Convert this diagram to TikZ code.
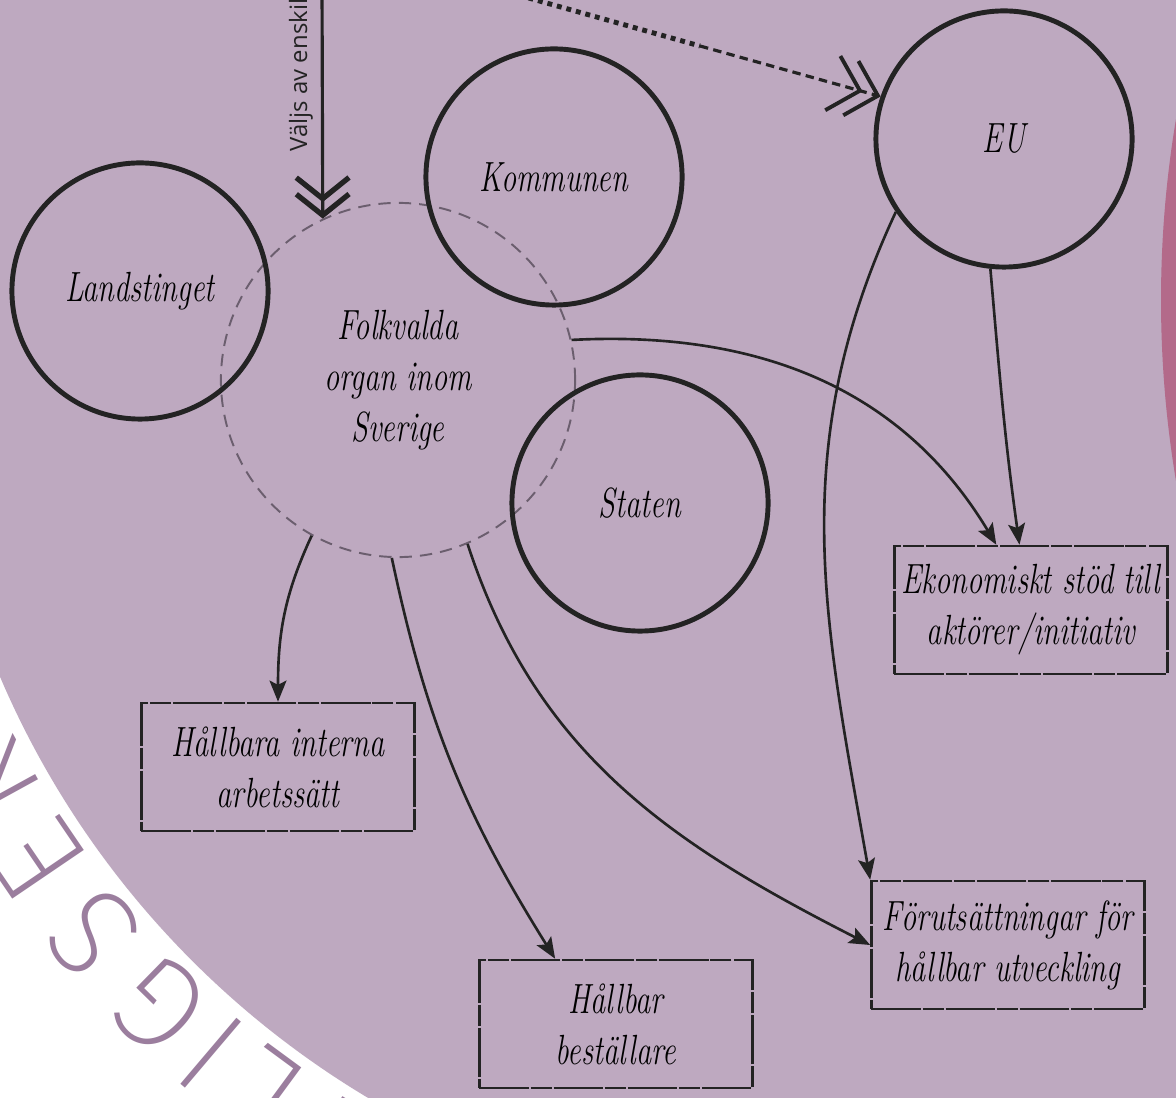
\documentclass[tikz,border=0pt]{standalone}
\usepackage{fontspec}
\usetikzlibrary{arrows.meta}

\newfontfamily\skrift{Latin Modern Roman}[FakeStretch=0.72]
\newfontfamily\etikett{Open Sans}
\IfFontExistsTF{Fira Sans ExtraLight}
  {\newfontfamily\ringfont{Fira Sans ExtraLight}}
  {\newfontfamily\ringfont{Fira Sans}}

\definecolor{lila}{HTML}{BEA9C0}
\definecolor{rosa}{HTML}{B36A8A}
\definecolor{ringtext}{HTML}{9B7E9E}
\definecolor{streck}{HTML}{232323}
\definecolor{gra}{HTML}{6B5E6E}

\tikzset{
  organ/.style={circle, draw=streck, line width=1.4pt, minimum size=2.56cm, inner sep=0pt,
    font=\skrift\itshape\fontsize{12}{14.5}\selectfont},
  folkring/.style={circle, draw=gra, line width=0.55pt, dash pattern=on 3.5pt off 2.3pt,
    minimum size=3.54cm, inner sep=0pt, align=center,
    font=\skrift\itshape\fontsize{12}{14.5}\selectfont},
  mal/.style={draw=streck, line width=0.7pt, dash pattern=on 14pt off 0.6pt on 6pt off 0.5pt,
    minimum width=2.73cm, minimum height=1.28cm, inner sep=0pt, align=center,
    font=\skrift\itshape\fontsize{12}{14.5}\selectfont},
  pil/.style={draw=streck, line width=0.75pt, -{Stealth[length=6pt, width=4.8pt, inset=1.2pt]}},
  dubbel/.style={-{Straight Barb[length=6pt, width=15pt, line width=1.5pt, sep=-3pt]
    Straight Barb[length=6pt, width=15pt, line width=1.5pt]}},
  ringbok/.style={text=ringtext, font=\ringfont\fontsize{36}{36}\selectfont, inner sep=0pt},
}

\begin{document}
\begin{tikzpicture}[x=0.01cm, y=0.01cm]
  \useasboundingbox (0,0) rectangle (1176,1097);
  \clip (0,0) rectangle (1176,1097);
  \fill[white] (0,0) rectangle (1176,1097);
  \fill[lila] (830,774) circle [radius=902];
  \fill[rosa] (2248,797) circle [radius=1087];

  % text runt cirkeln
  \begin{scope}[shift={(830,774)}]
    \foreach \b/\v in {T/238, L/233.7, I/229.7, G/225.6, S/219.6, E/214.2, K/208.8}
      \node[ringbok, rotate=\v-90] (bok\b) at (\v:957) {\b};
  \end{scope}

  % organ
  \node[folkring] (folk) at (398,717) {Folkvalda\\organ inom\\Sverige};
  \node[organ] (landsting) at (140,806) {Landstinget};
  \node[organ] (kommun) at (554,920) {Kommunen};
  \node[organ] (staten) at (640,594) {Staten};
  \node[organ] (eu) at (1004,958) {EU};

  % resultat
  \node[mal] (interna) at (278,330) {Hållbara interna\\arbetssätt};
  \node[mal] (bestallare) at (616,73) {Hållbar\\beställare};
  \node[mal] (forutsattning) at (1008,152) {Förutsättningar för\\hållbar utveckling};
  \node[mal] (ekonomi) at (1031,487) {Ekonomiskt stöd till\\aktörer/initiativ};

  % val
  \coordinate (oben1) at (322,1112);
  \draw[streck, line width=0.9pt, dubbel] (oben1) -- (folk.115);
  \node[rotate=90, anchor=west, inner sep=0pt, text=streck, font=\etikett\fontsize{6.8}{8}\selectfont]
    (valjs) at (301,945) {Väljs av enskil};
  \coordinate (oben2) at (500,1107);
  \coordinate (mitt) at (700,1051);
  \draw[streck, line width=1.4pt, dash pattern=on 1.4pt off 1.4pt] (oben2) -- (mitt);
  \draw[streck, line width=0.9pt, dash pattern=on 2.4pt off 1.5pt,
    -{Straight Barb[length=8pt, width=16pt, line width=1.1pt, sep=-4pt]
      Straight Barb[length=8pt, width=16pt, line width=1.1pt]}] (mitt) -- (eu.161);

  % pilar
  \draw[pil] (folk.241) to[out=-115, in=90] (interna.north);
  \draw[pil] (folk.268) to[out=-78, in=122] (bestallare.133);
  \draw[pil] (folk.293) to[out=-72, in=153] (forutsattning.west);
  \draw[pil] (folk.13) to[out=3, in=121] (ekonomi.118);
  \draw[pil] (eu.264) to[out=-85, in=98] (ekonomi.100);
  \draw[pil] (eu.214) to[out=-115, in=100] (forutsattning.north west);
\end{tikzpicture}
\end{document}
